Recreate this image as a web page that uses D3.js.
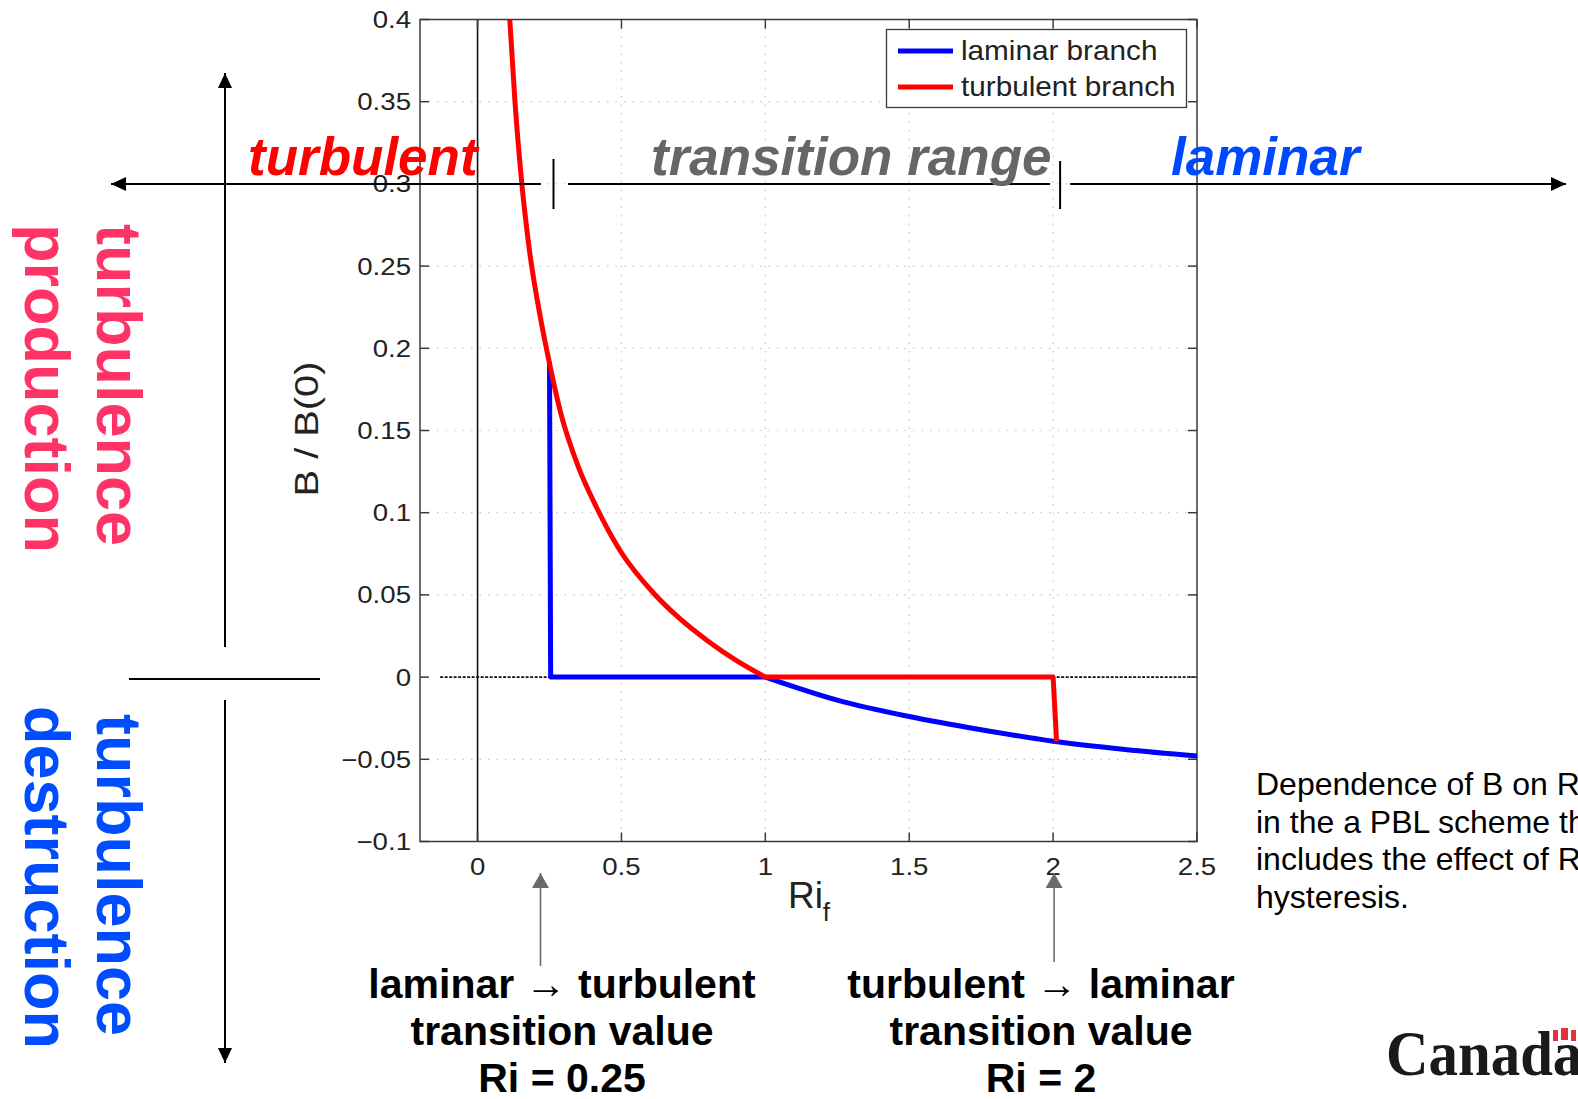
<!DOCTYPE html>
<html>
<head>
<meta charset="utf-8">
<script src="https://cdn.jsdelivr.net/npm/d3@7"></script>
<style>
  html, body { margin: 0; padding: 0; background: #fff; overflow: hidden; }
  svg { display: block; }
</style>
</head>
<body>
<svg id="fig" width="1578" height="1099"></svg>
<script>
// B / B(0) as a function of the flux Richardson number, two branches with hysteresis
const xTicks = [0, 0.5, 1, 1.5, 2, 2.5];
const xTickLabels = ["0", "0.5", "1", "1.5", "2", "2.5"];
const yTicks = [-0.1, -0.05, 0, 0.05, 0.1, 0.15, 0.2, 0.25, 0.3, 0.35, 0.4];
const yTickLabels = ["\u22120.1", "\u22120.05", "0", "0.05", "0.1", "0.15", "0.2", "0.25", "0.3", "0.35", "0.4"];

// transition values: laminar -> turbulent, turbulent -> laminar
const transitionRi = [0.25, 2];

// laminar branch: jump up at Ri = 0.25, zero until Ri = 1, then negative
const laminarRi = [0.25, 0.254, 1.0, 1.25, 1.5, 1.75, 2.0, 2.25, 2.5];
const laminarB  = [0.192, 0, 0, -0.014, -0.024, -0.032, -0.039, -0.044, -0.048];
const laminarSmoothFrom = 2;   // points before this index are straight segments

// turbulent branch: decaying curve to zero at Ri = 1, flat, then drop at Ri = 2
const turbulentRi = [0.112, 0.13, 0.154, 0.18, 0.217, 0.245, 0.29, 0.35, 0.414, 0.495, 0.612, 0.7, 0.8, 0.9, 1.0, 2.0, 2.012];
const turbulentB  = [0.40, 0.35, 0.30, 0.26, 0.22, 0.195, 0.16, 0.128, 0.103, 0.077, 0.051, 0.036, 0.022, 0.01, 0, 0, -0.039];
const turbulentSmoothTo = 14;  // points after this index are straight segments

const seriesNames = ["laminar branch", "turbulent branch"];
const seriesColors = ["#0000ff", "#ff0000"];

const svg = d3.select("#fig");
const W = 1578, H = 1099;
svg.append("rect").attr("width", W).attr("height", H).attr("fill", "#fff");

const plot = { left: 420, right: 1197, top: 19.5, bottom: 841.5 };
const x = d3.scaleLinear().domain([-0.2, 2.5]).range([plot.left, plot.right]);
const y = d3.scaleLinear().domain([-0.1, 0.4]).range([plot.bottom, plot.top]);

const defs = svg.append("defs");
defs.append("clipPath").attr("id", "plotClip")
  .append("rect").attr("x", plot.left).attr("y", plot.top)
  .attr("width", plot.right - plot.left).attr("height", plot.bottom - plot.top);

function marker(id, color, w, h) {
  defs.append("marker").attr("id", id)
    .attr("viewBox", `0 0 ${w} ${h}`).attr("refX", w).attr("refY", h / 2)
    .attr("markerWidth", w).attr("markerHeight", h)
    .attr("markerUnits", "userSpaceOnUse").attr("orient", "auto")
    .append("path").attr("d", `M0,0L${w},${h / 2}L0,${h}Z`).attr("fill", color);
}
marker("arrBlack", "#000", 15, 14);
marker("arrGrey", "#6b6b6b", 15, 17);

const font = "'Liberation Sans', Arial, Helvetica, sans-serif";
const axisColor = "#3a3a3a";

// grid
const grid = svg.append("g").attr("stroke", "#c8c8c8").attr("stroke-width", 1.2)
  .attr("stroke-dasharray", "1.5,7");
grid.selectAll(".gx").data(xTicks.filter(v => v !== 0 && v !== 2.5)).join("line")
  .attr("x1", d => x(d)).attr("x2", d => x(d)).attr("y1", plot.top).attr("y2", plot.bottom);
grid.selectAll(".gy").data(yTicks.filter(v => v !== -0.1 && v !== 0.4 && v !== 0)).join("line")
  .attr("x1", plot.left).attr("x2", plot.right).attr("y1", d => y(d)).attr("y2", d => y(d));

// reference lines at Ri = 0 and B = 0
svg.append("line").attr("x1", x(0)).attr("x2", x(0)).attr("y1", plot.top).attr("y2", plot.bottom)
  .attr("stroke", "#111").attr("stroke-width", 1.6);
svg.append("line").attr("x1", x(-0.13)).attr("x2", plot.right).attr("y1", y(0)).attr("y2", y(0))
  .attr("stroke", "#111").attr("stroke-width", 1.6).attr("stroke-dasharray", "3,1.5");

// axes box with inward ticks
const tickLen = 9;
const axes = svg.append("g").attr("stroke", axisColor).attr("stroke-width", 1.5).attr("fill", "none");
axes.append("rect").attr("x", plot.left).attr("y", plot.top)
  .attr("width", plot.right - plot.left).attr("height", plot.bottom - plot.top);
xTicks.forEach(v => {
  axes.append("line").attr("x1", x(v)).attr("x2", x(v)).attr("y1", plot.bottom).attr("y2", plot.bottom - tickLen);
  axes.append("line").attr("x1", x(v)).attr("x2", x(v)).attr("y1", plot.top).attr("y2", plot.top + tickLen);
});
yTicks.forEach(v => {
  axes.append("line").attr("x1", plot.left).attr("x2", plot.left + tickLen).attr("y1", y(v)).attr("y2", y(v));
  axes.append("line").attr("x1", plot.right).attr("x2", plot.right - tickLen).attr("y1", y(v)).attr("y2", y(v));
});

// tick labels (slightly wide, as in the figure)
const tickFont = 24, stretch = 1.15;
svg.append("g").selectAll("text").data(yTicks).join("text")
  .attr("transform", d => `translate(${plot.left - 9},${y(d) + 8.5}) scale(${stretch},1)`)
  .attr("text-anchor", "end").attr("font-family", font).attr("font-size", tickFont).attr("fill", "#222")
  .text((d, i) => yTickLabels[i]);
svg.append("g").selectAll("text").data(xTicks).join("text")
  .attr("transform", d => `translate(${x(d)},${plot.bottom + 33}) scale(${stretch},1)`)
  .attr("text-anchor", "middle").attr("font-family", font).attr("font-size", tickFont).attr("fill", "#222")
  .text((d, i) => xTickLabels[i]);

// axis titles
svg.append("text")
  .attr("transform", `translate(318,429) rotate(-90) scale(1.17,1)`)
  .attr("text-anchor", "middle").attr("font-family", font).attr("font-size", 34).attr("fill", "#222")
  .text("B / B(0)");
const xl = svg.append("text").attr("x", 809).attr("y", 908).attr("text-anchor", "middle")
  .attr("font-family", font).attr("font-size", 37).attr("fill", "#222");
xl.append("tspan").text("Ri");
xl.append("tspan").attr("font-size", 26).attr("dy", 13).text("f");

// curves
const lin = d3.line().x(d => x(d[0])).y(d => y(d[1]));
const smooth = d3.line().x(d => x(d[0])).y(d => y(d[1])).curve(d3.curveMonotoneX);
const join = (a, b) => a + b.replace(/^M/, "L");

const lamPts = laminarRi.map((r, i) => [r, laminarB[i]]);
const turbPts = turbulentRi.map((r, i) => [r, turbulentB[i]]);
const lamPath = join(lin(lamPts.slice(0, laminarSmoothFrom + 1)), smooth(lamPts.slice(laminarSmoothFrom)));
const turbPath = join(smooth(turbPts.slice(0, turbulentSmoothTo + 1)), lin(turbPts.slice(turbulentSmoothTo)));

const curves = svg.append("g").attr("clip-path", "url(#plotClip)").attr("fill", "none")
  .attr("stroke-width", 5).attr("stroke-linejoin", "round");
curves.append("path").attr("d", lamPath).attr("stroke", seriesColors[0]);
curves.append("path").attr("d", turbPath).attr("stroke", seriesColors[1]);

// legend
const lg = svg.append("g");
lg.append("rect").attr("x", 886.5).attr("y", 29.5).attr("width", 300).attr("height", 78)
  .attr("fill", "#fff").attr("stroke", axisColor).attr("stroke-width", 1.3);
seriesNames.forEach((name, i) => {
  const cy = 51 + i * 36;
  lg.append("line").attr("x1", 898).attr("x2", 953).attr("y1", cy).attr("y2", cy)
    .attr("stroke", seriesColors[i]).attr("stroke-width", 5);
  lg.append("text").attr("transform", `translate(961,${cy + 9}) scale(1.1,1)`)
    .attr("font-family", font).attr("font-size", 27).attr("fill", "#222").text(name);
});

// regime arrow across the top
const ay = 184;
const blk = { stroke: "#000", "stroke-width": 2 };
function seg(x1, y1, x2, y2, attrs, mk) {
  const l = svg.append("line").attr("x1", x1).attr("y1", y1).attr("x2", x2).attr("y2", y2);
  Object.entries(attrs).forEach(([k, v]) => l.attr(k, v));
  if (mk) l.attr("marker-end", `url(#${mk})`);
  return l;
}
seg(541, ay, 111, ay, blk, "arrBlack");
seg(568, ay, 1050, ay, blk);
seg(1070, ay, 1566, ay, blk, "arrBlack");
seg(x(transitionRi[0]) + 4, 159, x(transitionRi[0]) + 4, 209, blk);
seg(x(transitionRi[1]) + 7, 161, x(transitionRi[1]) + 7, 209, blk);

const big = (tx, ty, txt, color) => svg.append("text").attr("x", tx).attr("y", ty)
  .attr("font-family", font).attr("font-size", 53).attr("font-weight", "bold")
  .attr("font-style", "italic").attr("fill", color).text(txt);
big(248, 175, "turbulent", "#ff0000");
big(651, 175, "transition range", "#666666");
big(1171, 175, "laminar", "#0048ff");

// vertical production / destruction arrows on the left
seg(225, 647, 225, 73, blk, "arrBlack");
seg(129, 679, 320, 679, blk);
seg(225, 700, 225, 1063, blk, "arrBlack");

const side = (tx, ty, txt, color) => svg.append("text")
  .attr("transform", `translate(${tx},${ty}) rotate(90)`)
  .attr("font-family", font).attr("font-size", 63).attr("font-weight", "bold").attr("fill", color).text(txt);
side(97, 224, "turbulence", "#ff3366");
side(25, 224, "production", "#ff3366");
side(97, 714, "turbulence", "#004cff");
side(25, 706, "destruction", "#004cff");

// transition value callouts
seg(x(transitionRi[0]) - 9, 966, x(transitionRi[0]) - 9, 873, { stroke: "#6b6b6b", "stroke-width": 1.6 }, "arrGrey");
seg(x(transitionRi[1]) + 1, 962, x(transitionRi[1]) + 1, 873, { stroke: "#6b6b6b", "stroke-width": 1.6 }, "arrGrey");

const callout = (cx, lines) => lines.forEach((t, i) => svg.append("text")
  .attr("x", cx).attr("y", 998 + i * 47).attr("text-anchor", "middle")
  .attr("font-family", font).attr("font-size", 41).attr("font-weight", "bold").attr("fill", "#000").text(t));
callout(562, ["laminar \u2192 turbulent", "transition value", "Ri = " + transitionRi[0]]);
callout(1041, ["turbulent \u2192 laminar", "transition value", "Ri = " + transitionRi[1]]);

// caption on the right
["Dependence of B on Ri", "in the a PBL scheme that", "includes the effect of Ri", "hysteresis."]
  .forEach((t, i) => svg.append("text").attr("x", 1256).attr("y", 795 + i * 37.5)
    .attr("font-family", font).attr("font-size", 32).attr("fill", "#000").text(t));

// wordmark
svg.append("text").attr("transform", "translate(1386,1075) scale(0.92,1)")
  .attr("font-family", "'Liberation Serif', 'Times New Roman', serif").attr("font-size", 64)
  .attr("font-weight", "bold").attr("fill", "#1a1a1a").text("Canada");
const flag = svg.append("g").attr("fill", "#e8303a");
flag.append("rect").attr("x", 1553).attr("y", 1030).attr("width", 5).attr("height", 11);
flag.append("rect").attr("x", 1561).attr("y", 1028).attr("width", 7).attr("height", 12);
flag.append("rect").attr("x", 1571).attr("y", 1030).attr("width", 5).attr("height", 11);
</script>
</body>
</html>
